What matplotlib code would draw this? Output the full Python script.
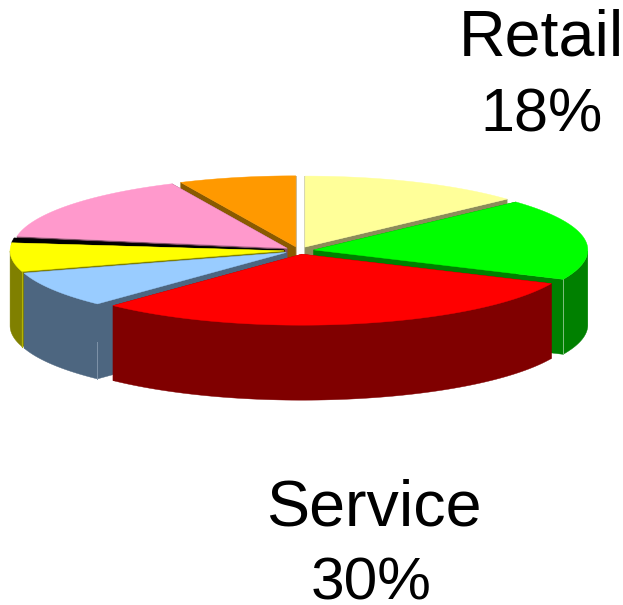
import numpy as np
import matplotlib
matplotlib.use("Agg")
import matplotlib.pyplot as plt

plt.rcParams['font.family'] = ['Liberation Sans', 'DejaVu Sans']

# shares going clockwise from 12 o'clock, only Retail and Service are labelled
slices = ['Pale', 'Retail', 'Service', 'Blue', 'Yellow', 'Black', 'Pink', 'Orange']
shares = [13.2, 18.6, 30.3, 8.2, 6.5, 0.9, 15.4, 6.9]
top_colors = ['#ffff99', '#00ff00', '#ff0000', '#99ccff', '#ffff00', '#000000', '#ff99cc', '#ff9900']
side_colors = ['#8c8c5a', '#008000', '#800000', '#4d6680', '#808000', '#000000', '#804d66', '#8a5a00']

CX, CY = 299, 250.5
RX, RY = 274, 71
DEPTH = 75
EXPLODE = 15

# back slices first so the front ones paint over them
draw_order = ['Orange', 'Pale', 'Pink', 'Retail', 'Black', 'Yellow', 'Blue', 'Service']


def project(angle, radius=1.0):
    # clockwise degrees from the top, on the squashed pie plane
    a = np.radians(angle)
    return radius * RX * np.sin(a), -radius * RY * np.cos(a)


edges = np.concatenate([[0], np.cumsum(shares)]) / np.sum(shares) * 360

fig = plt.figure(figsize=(6.23, 6.05), dpi=100)
ax = fig.add_axes([0, 0, 1, 1])
ax.set_xlim(0, 623)
ax.set_ylim(605, 0)
ax.axis('off')

for name in draw_order:
    i = slices.index(name)
    start, end = edges[i], edges[i + 1]
    mid = (start + end) / 2
    ox, oy = project(mid, EXPLODE / RX)
    x0, y0 = CX + ox, CY + oy * RX / RY * 0.25

    angles = np.linspace(start, end, 80)
    px, py = project(angles)
    px, py = x0 + px, y0 + py

    # radial cut faces
    for ex, ey in [(px[0], py[0]), (px[-1], py[-1])]:
        ax.fill([x0, ex, ex, x0], [y0, ey, ey + DEPTH, y0 + DEPTH],
                color=side_colors[i], lw=0.3, zorder=1)

    # outer wall, only the part facing the viewer
    front = (angles >= 90) & (angles <= 270)
    if front.any():
        ax.fill(np.r_[px[front], px[front][::-1]],
                np.r_[py[front], py[front][::-1] + DEPTH],
                color=side_colors[i], lw=0.3, zorder=1)
        # light seam on the exposed corner
        if name == 'Retail':
            ax.plot([px[-1]] * 2, [py[-1], py[-1] + DEPTH], color='#7fbf7f', lw=0.7, zorder=1)
        if name == 'Blue':
            ax.plot([px[0]] * 2, [py[0] + 38, py[0] + DEPTH], color='#7f93a8', lw=0.7, zorder=1)
        if name == 'Yellow':
            ax.plot([px[0]] * 2, [py[0], py[0] + DEPTH], color='#b3b300', lw=0.8, zorder=1)

    ax.fill(np.r_[x0, px], np.r_[y0, py], color=top_colors[i], lw=0.3, zorder=1)

ax.text(541, 55, 'Retail', fontsize=46.5, ha='center', va='baseline', color='black')
ax.text(541.5, 132, '18%', fontsize=44, ha='center', va='baseline', color='black')
ax.text(374, 525, 'Service', fontsize=46.5, ha='center', va='baseline', color='black')
ax.text(371, 599, '30%', fontsize=43.5, ha='center', va='baseline', color='black')

fig.savefig('out.png', dpi=100)
